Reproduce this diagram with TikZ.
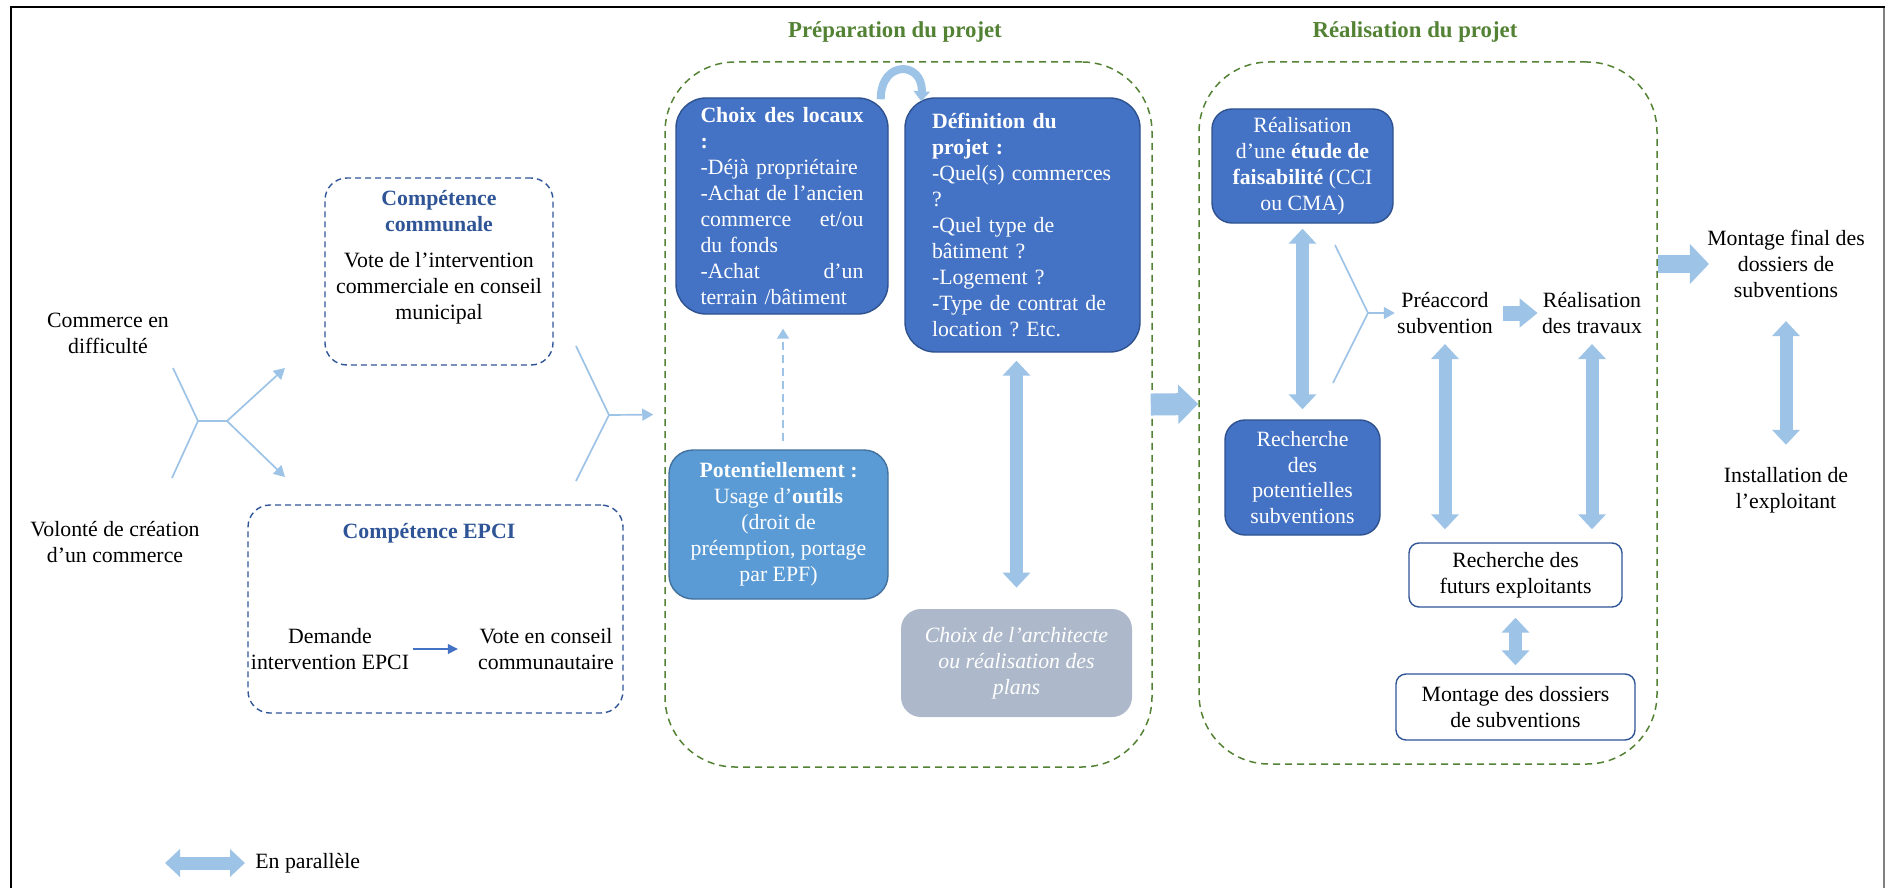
\documentclass[tikz,border=0pt]{standalone}
\usepackage{fontspec}
\setmainfont{Liberation Serif}
\usetikzlibrary{arrows.meta,positioning}

\definecolor{boxblue}{HTML}{4472C4}
\definecolor{boxedge}{HTML}{2F528F}
\definecolor{midblue}{HTML}{5B9BD5}
\definecolor{midedge}{HTML}{41719C}
\definecolor{greyblue}{HTML}{ADB9CA}
\definecolor{arrowblue}{HTML}{9DC3E6}
\definecolor{navy}{HTML}{2F5597}
\definecolor{leaf}{HTML}{548235}

\tikzset{
  txt/.style={font=\fontsize{10.9}{12.95}\selectfont, align=center, inner sep=1pt},
  ctitle/.style={txt, font=\fontsize{10.9}{12.95}\selectfont\bfseries, text=navy},
  phasetitle/.style={txt, font=\fontsize{11.4}{13.5}\selectfont\bfseries, text=leaf},
  phase/.style={draw=leaf, line width=0.75pt, dash pattern=on 3.5pt off 2.5pt, rounded corners=35pt},
  compbox/.style={draw=navy, line width=0.7pt, dash pattern=on 3pt off 2pt, rounded corners=11pt},
  darkbox/.style={txt, draw=boxedge, line width=0.7pt, fill=boxblue, text=white},
  lightbox/.style={darkbox, draw=midedge, fill=midblue},
  greybox/.style={txt, fill=greyblue, text=white, font=\fontsize{10.9}{12.95}\selectfont\itshape, rounded corners=10pt},
  whitebox/.style={txt, draw=navy, line width=0.7pt, fill=white, rounded corners=5pt},
  thinline/.style={draw=arrowblue, line width=0.85pt},
  thinarrow/.style={thinline, -{Triangle[width=6pt,length=5.5pt]}},
  dasharrow/.style={thinline, line width=0.8pt, dash pattern=on 4pt off 2.5pt, -{Triangle[width=6pt,length=5pt]}},
  navyarrow/.style={draw=boxblue, line width=0.6pt, -{Triangle[width=5pt,length=5pt]}},
  fatboth/.style={draw=arrowblue, line width=6.5pt, {Triangle[width=13.5pt,length=7.5pt]}-{Triangle[width=13.5pt,length=7.5pt]}},
  fatright/.style={draw=arrowblue, line width=7.5pt, -{Triangle[width=14pt,length=9pt]}},
  fatmid/.style={draw=arrowblue, line width=9pt, -{Triangle[width=19.5pt,length=9.5pt]}},
  fatbig/.style={draw=arrowblue, line width=11pt, -{Triangle[width=19pt,length=10pt]}},
  curvearrow/.style={draw=arrowblue, line width=4pt, -{Triangle[width=8pt,length=5pt]}}
}

\begin{document}
\frenchspacing
\begin{tikzpicture}[x=0.5pt,y=-0.5pt]
    \useasboundingbox (0,0) rectangle (1885,888);
    %% Frame
    \draw[line width=1.25pt] (11,888) -- (11,7) -- (1885,7);
    \draw[gray, line width=0.6pt] (1884,8) -- (1884,888);

    %% Starting points
    \node[txt] (start) at (108,333) {Commerce en\\difficulté};
    \node[txt] (create) at (115,542) {Volonté de création\\d’un commerce};
    \coordinate (fLa) at (173,368);
    \coordinate (fLb) at (172,478);
    \coordinate (jL) at (198,421);
    \coordinate (jL2) at (227,421);
    \coordinate (toCom) at (285,368);
    \coordinate (toEpci) at (285,477);
    \draw[thinline] (fLa) -- (jL) -- (fLb);
    \draw[thinline] (jL) -- (jL2);
    \foreach \t in {toCom,toEpci}{
        \draw[thinarrow] (jL2) -- (\t);
    }

    %% Competences
    \node[compbox, minimum width=114pt, minimum height=93.5pt] (communale) at (439,271.5) {};
    \node[ctitle] (comT) at (439,211) {Compétence\\communale};
    \node[txt] (comB) at (439,288) {Vote de l’intervention\\commerciale en conseil\\municipal};
    \node[compbox, minimum width=187.5pt, minimum height=104pt] (epci) at (435.5,609) {};
    \node[ctitle] (epciT) at (429,533) {Compétence EPCI};
    \node[txt] (demande) at (330,649) {Demande\\intervention EPCI};
    \node[txt] (vote) at (546,649) {Vote en conseil\\communautaire};
    \draw[navyarrow, shorten <=1pt, shorten >=9pt] (demande.east) -- (vote.west);

    %% Preparation du projet
    \node[phasetitle] (prepT) at (895,32) {Préparation du projet};
    \node[phase, minimum width=243.5pt, minimum height=352.5pt] (prep) at (908.5,414.5) {};
    \coordinate (fMa) at (576,346);
    \coordinate (fMb) at (576,481);
    \coordinate (jM) at (609,415);
    \draw[thinline] (fMa) -- (jM) -- (fMb);
    \draw[thinarrow, shorten >=5.5pt] (jM) -- (prep.west);

    \node[darkbox, align=left, text width=81.5pt, inner xsep=12.25pt, minimum height=108pt, rounded corners=15pt] (choix) at (782,206)
        {\textbf{Choix\hspace{\fill}des\hspace{\fill}locaux}\\
         \textbf{:}\\
         -Déjà propriétaire\\
         -Achat\hspace{\fill}de\hspace{\fill}l’ancien\\
         commerce\hspace{\fill}et/ou\\
         du fonds\\
         -Achat\hspace{\fill}d’un\\
         terrain /bâtiment};
    \node[darkbox, align=left, text width=90.5pt, inner xsep=13.5pt, minimum height=127pt, rounded corners=15pt] (defin) at (1022.5,225)
        {\textbf{Définition du}\\
         \textbf{projet :}\\
         -Quel(s) commerces\\
         ?\\
         -Quel type de\\
         bâtiment ?\\
         -Logement ?\\
         -Type de contrat de\\
         location ? Etc.};
    \node[lightbox, minimum width=109.5pt, minimum height=74.5pt, rounded corners=12pt] (potent) at (778.5,524.5)
        {\textbf{Potentiellement :}\\Usage d’\textbf{outils}\\(droit de\\préemption, portage\\par EPF)};
    \node[greybox, minimum width=115.5pt, minimum height=54pt] (archi) at (1016.5,663)
        {Choix de l’architecte\\ou réalisation des\\plans};
    \draw[curvearrow] ([shift={(-8,2)}]choix.north east) .. controls +(0,-40) and +(2,-40) .. ([shift={(17,4)}]defin.north west);
    \draw[dasharrow] ([shift={(4.5,-8)}]potent.north) -- ([shift={(1,14)}]choix.south);
    \draw[fatboth, shorten <=4pt, shorten >=10.5pt] (defin.south -| archi.north) -- (archi.north);

    %% Realisation du projet
    \node[phasetitle] (realT) at (1415,32) {Réalisation du projet};
    \node[phase, minimum width=229pt, minimum height=351pt] (real) at (1428,413) {};
    \draw[fatbig, shorten <=-1pt] ([shift={(0,-10)}]prep.east) -- ([shift={(0,-9)}]real.west);

    \node[darkbox, minimum width=90.5pt, minimum height=57pt, rounded corners=10pt] (etude) at (1302.5,166)
        {Réalisation\\d’une \textbf{étude de}\\\textbf{faisabilité} (CCI\\ou CMA)};
    \node[darkbox, minimum width=77.5pt, minimum height=57.5pt, rounded corners=10pt] (recherche) at (1302.5,477.5)
        {Recherche\\des\\potentielles\\subventions};
    \draw[fatboth, shorten <=2.5pt, shorten >=5pt] (etude.south) -- (recherche.north);

    \node[txt] (preacc) at (1445,313) {Préaccord\\subvention};
    \node[txt] (travaux) at (1592,313) {Réalisation\\des travaux};
    \coordinate (fRa) at (1335,245);
    \coordinate (fRb) at (1333,383);
    \coordinate (jR) at (1368,313);
    \draw[thinline] (fRa) -- (jR) -- (fRb);
    \draw[thinarrow] (jR) -- (preacc.west);
    \draw[fatright, shorten <=4pt, shorten >=1pt] (preacc.east) -- (travaux.west);

    \node[whitebox, minimum width=106.5pt, minimum height=32pt] (futurs) at (1515.5,575) {Recherche des\\futurs exploitants};
    \node[whitebox, minimum width=119.5pt, minimum height=33pt] (montage) at (1515.5,707) {Montage des dossiers\\de subventions};
    \foreach \n in {preacc,travaux}{
        \draw[fatboth, shorten <=4pt, shorten >=6.5pt] (\n.south) -- (\n.south |- futurs.north);
    }
    \draw[fatboth, shorten <=5pt, shorten >=4pt] (futurs.south) -- (montage.north);

    %% Fin
    \node[txt] (final) at (1786,264) {Montage final des\\dossiers de\\subventions};
    \node[txt] (install) at (1786,490) {Installation de\\l’exploitant};
    \draw[fatmid, shorten >=-2pt] (real.east |- final.west) -- (final.west);
    \draw[fatboth, shorten <=10.5pt, shorten >=10pt] (final.south) -- (install.north);

    %% Legend
    \node[txt, anchor=west] (leg) at (253,863) {En parallèle};
    \coordinate (legtail) at (165,863);
    \draw[fatboth, shorten >=4pt] (legtail) -- (leg.west);
\end{tikzpicture}
\end{document}
